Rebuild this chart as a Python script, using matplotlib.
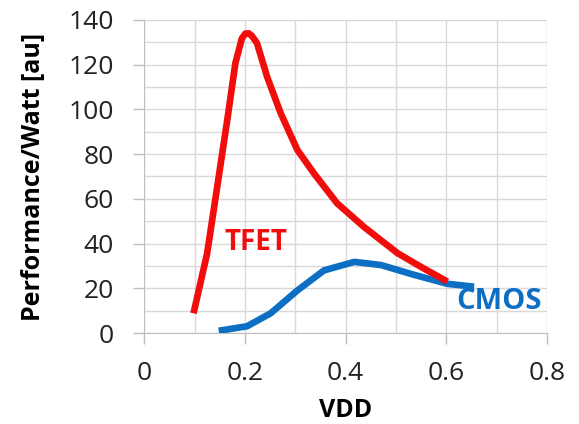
import matplotlib.pyplot as plt
from matplotlib.ticker import MultipleLocator

# TFET curve
tfet_vdd = [0.098, 0.125, 0.145, 0.165, 0.181, 0.194, 0.201, 0.2076, 0.214,
            0.224, 0.244, 0.271, 0.304, 0.337, 0.383, 0.436, 0.503, 0.55,
            0.602]
tfet_perf = [8.8, 35.6, 65.4, 95.3, 120.6, 131.8, 133.9, 134, 132.8,
             129.6, 114.6, 98.3, 81.9, 71.4, 58, 47.5, 35.7, 29.5,
             23]

# CMOS curve
cmos_vdd = [0.148, 0.204, 0.251, 0.304, 0.357, 0.417, 0.470, 0.536, 0.602, 0.655]
cmos_perf = [1, 3, 8.8, 19, 28, 31.8, 30.4, 26, 22, 20.7]

x_ticks = [0, 0.2, 0.4, 0.6, 0.8]
x_tick_labels = ["0", "0.2", "0.4", "0.6", "0.8"]
y_ticks = [0, 20, 40, 60, 80, 100, 120, 140]

RED = "#f20d0d"
BLUE = "#0d6fc4"
GRID = "#d9d9d9"

plt.rcParams["font.family"] = ["Open Sans", "DejaVu Sans"]

fig = plt.figure(figsize=(5.79, 4.24), dpi=100)
ax = fig.add_axes([0.249, 0.2146, 0.696, 0.7384])

ax.plot(cmos_vdd, cmos_perf, color=BLUE, linewidth=4.8,
        solid_capstyle="butt", solid_joinstyle="round", zorder=3)
ax.plot(tfet_vdd, tfet_perf, color=RED, linewidth=4.8,
        solid_capstyle="butt", solid_joinstyle="round", zorder=4)

ax.text(0.221, 40.4, "TFET", color=RED, fontsize=20, fontweight="bold",
        ha="center", va="center")
ax.text(0.705, 14, "CMOS", color=BLUE, fontsize=21, fontweight="bold",
        ha="center", va="center")

ax.set_xlim(0, 0.8)
ax.set_ylim(0, 140)
ax.set_xticks(x_ticks)
ax.set_xticklabels(x_tick_labels)
ax.set_yticks(y_ticks)
ax.xaxis.set_minor_locator(MultipleLocator(0.1))
ax.yaxis.set_minor_locator(MultipleLocator(10))

ax.grid(which="both", color=GRID, linewidth=1.0, zorder=0)
ax.set_axisbelow(True)

for side in ["top", "right"]:
    ax.spines[side].set_visible(False)
for side in ["left", "bottom"]:
    ax.spines[side].set_color("#bfbfbf")

ax.tick_params(axis="both", which="major", labelsize=19, color="#bfbfbf",
               length=8, width=1, labelcolor="#222222")
ax.tick_params(axis="both", which="minor", length=0)
ax.tick_params(axis="x", pad=12)
ax.tick_params(axis="y", pad=14)

ax.set_xlabel("VDD", fontsize=18, fontweight="bold", labelpad=9)
ax.set_ylabel("Performance/Watt [au]", fontsize=18, fontweight="bold",
              labelpad=16)

fig.savefig("out.png", dpi=100)
